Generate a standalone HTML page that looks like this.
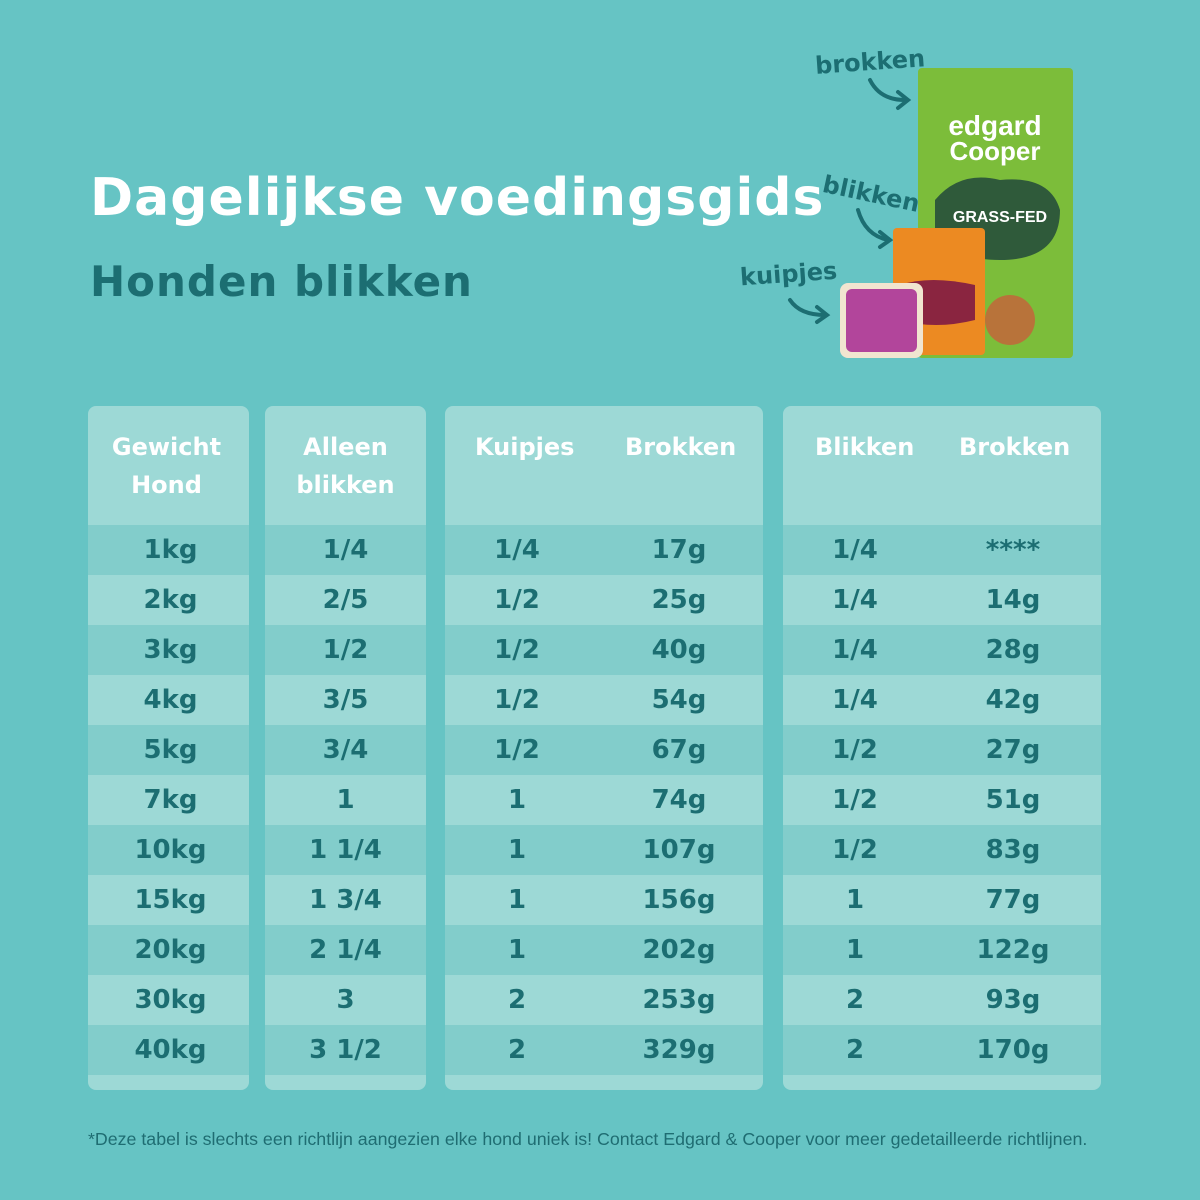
<!DOCTYPE html>
<html><head><meta charset="utf-8"><style>
body{margin:0;width:1200px;height:1200px;background:#66c4c4;position:relative;overflow:hidden;font-family:"DejaVu Sans","Liberation Sans",sans-serif}
.t1{position:absolute;left:90px;top:168px;font-size:52px;font-weight:bold;color:#fff;letter-spacing:1px}
.t2{position:absolute;left:90px;top:257px;font-size:42px;font-weight:bold;color:#1c6e72;letter-spacing:1px}
.panel{position:absolute;top:406px;height:684px;background:#9dd9d6;border-radius:8px;overflow:hidden}
.hd{position:absolute;top:0;left:0;right:0;height:119px;color:#fff;font-weight:bold;font-size:24px;text-align:center;line-height:38px}
.row{position:absolute;left:0;right:0;height:50px;color:#1c6e72;font-weight:bold;font-size:26px;line-height:50px}
.row span{position:absolute;text-align:center}
.dk{background:#82cdcb}
.foot{position:absolute;left:88px;top:1129px;font-size:17.8px;color:#1f6d72;font-family:"Liberation Sans",sans-serif}
.lbl{position:absolute;color:#1c6e72;font-weight:bold;font-size:24px}
</style></head><body>
<div class="t1">Dagelijkse voedingsgids</div>
<div class="t2">Honden blikken</div>

<div class="lbl" style="left:815px;top:48px;transform:rotate(-4deg)">brokken</div>
<div class="lbl" style="left:822px;top:180px;transform:rotate(12deg)">blikken</div>
<div class="lbl" style="left:740px;top:260px;transform:rotate(-4deg)">kuipjes</div>
<svg style="position:absolute;left:0;top:0" width="1200" height="400">
<g fill="none" stroke="#1c6e72" stroke-width="4" stroke-linecap="round">
<path d="M870 80 Q880 100 905 100"/><path d="M898 92 L908 100 L898 108"/>
<path d="M858 210 Q865 235 888 240"/><path d="M880 232 L890 240 L880 247"/>
<path d="M790 300 Q800 315 825 315"/><path d="M817 307 L827 315 L817 322"/>
</g>
<rect x="918" y="68" width="155" height="290" rx="4" fill="#7cbd3a"/>
<path d="M935 200 Q960 170 1000 180 Q1050 175 1060 210 Q1060 260 1000 260 Q950 260 935 230Z" fill="#2f5a3a"/>
<text x="995" y="135" fill="#fff" font-size="28" font-weight="bold" text-anchor="middle" font-family="Liberation Sans">edgard</text>
<text x="995" y="160" fill="#fff" font-size="26" font-weight="bold" text-anchor="middle" font-family="Liberation Sans">Cooper</text>
<text x="1000" y="222" fill="#fff" font-size="16" font-weight="bold" text-anchor="middle" font-family="Liberation Sans">GRASS-FED</text>
<rect x="893" y="228" width="92" height="127" rx="4" fill="#ec8a22"/>
<path d="M900 285 Q930 275 975 285 L975 320 Q935 330 900 320Z" fill="#8a2540"/>
<circle cx="1010" cy="320" r="25" fill="#b8733a"/>
<rect x="840" y="283" width="83" height="75" rx="8" fill="#f1e5d0"/>
<rect x="846" y="289" width="71" height="63" rx="6" fill="#b2459b"/>
</svg>

<div class="panel" style="left:88px;width:161px">
<div class="hd" style="padding-top:22px;height:97px;left:-4px">Gewicht<br>Hond</div>
</div>
<div class="panel" style="left:265px;width:161px">
<div class="hd" style="padding-top:22px;height:97px">Alleen<br>blikken</div>
</div>
<div class="panel" style="left:445px;width:318px">
<div class="hd" style="padding-top:22px;height:97px"><span style="position:absolute;left:30px">Kuipjes</span><span style="position:absolute;left:180px">Brokken</span></div>
</div>
<div class="panel" style="left:783px;width:318px">
<div class="hd" style="padding-top:22px;height:97px"><span style="position:absolute;left:32px">Blikken</span><span style="position:absolute;left:176px">Brokken</span></div>
</div>

<script>
var d=[["1kg","1/4","1/4","17g","1/4","****"],["2kg","2/5","1/2","25g","1/4","14g"],["3kg","1/2","1/2","40g","1/4","28g"],["4kg","3/5","1/2","54g","1/4","42g"],["5kg","3/4","1/2","67g","1/2","27g"],["7kg","1","1","74g","1/2","51g"],["10kg","1 1/4","1","107g","1/2","83g"],["15kg","1 3/4","1","156g","1","77g"],["20kg","2 1/4","1","202g","1","122g"],["30kg","3","2","253g","2","93g"],["40kg","3 1/2","2","329g","2","170g"]];
var P=document.querySelectorAll('.panel');
for(var i=0;i<11;i++){var r=d[i],c=i%2==0?'row dk':'row',t=119+i*50;
P[0].innerHTML+='<div class="'+c+'" style="top:'+t+'px"><span style="width:161px;left:2px">'+r[0]+'</span></div>';
P[1].innerHTML+='<div class="'+c+'" style="top:'+t+'px"><span style="left:0;width:161px">'+r[1]+'</span></div>';
P[2].innerHTML+='<div class="'+c+'" style="top:'+t+'px"><span style="left:22px;width:100px">'+r[2]+'</span><span style="left:184px;width:100px">'+r[3]+'</span></div>';
P[3].innerHTML+='<div class="'+c+'" style="top:'+t+'px"><span style="left:22px;width:100px">'+r[4]+'</span><span style="left:180px;width:100px">'+r[5]+'</span></div>';}
</script>
<div class="foot">*Deze tabel is slechts een richtlijn aangezien elke hond uniek is! Contact Edgard &amp; Cooper voor meer gedetailleerde richtlijnen.</div>
</body></html>
